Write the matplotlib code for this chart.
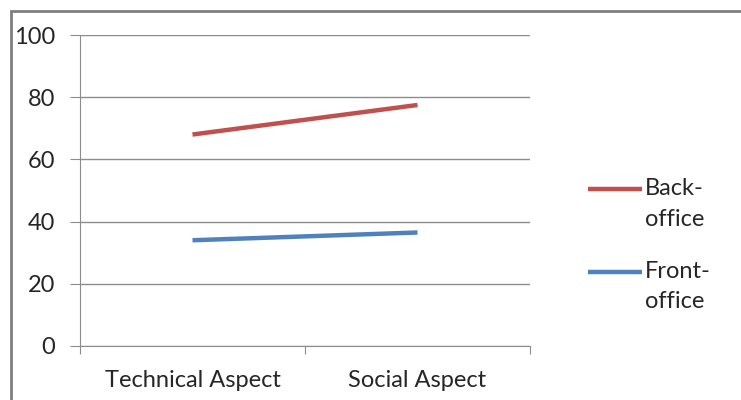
import matplotlib.pyplot as plt
from matplotlib.patches import Rectangle
from matplotlib.lines import Line2D

categories = ["Technical Aspect", "Social Aspect"]
back_office = [68, 77.5]
front_office = [34, 36.5]
y_ticks = [0, 20, 40, 60, 80, 100]
series_names = [("Back-", "office"), ("Front-", "office")]

red = "#C0504D"
blue = "#4F81BD"
grid_col = "#8C8C8C"
text_col = "#262626"

plt.rcParams['font.family'] = ['Lato', 'DejaVu Sans']

fig = plt.figure(figsize=(7.41, 4), dpi=100)
W, H = 741, 400
# axes in pixel coords: left 80, right 530, top 35, bottom 346
ax = fig.add_axes([80 / W, 1 - 346 / H, 450 / W, 311 / H])

x = [0.5, 1.5]
ax.plot(x, back_office, color=red, lw=3.2, solid_capstyle='butt')
ax.plot(x, front_office, color=blue, lw=3.2, solid_capstyle='butt')

ax.set_xlim(0, 2)
ax.set_ylim(0, 100)
ax.set_yticks(y_ticks)
ax.set_xticks([0, 1, 2])
ax.set_xticklabels([])
ax.set_xticks(x, minor=True)
ax.set_xticklabels(categories, minor=True)
ax.tick_params(axis='x', which='minor', length=0, pad=17, labelsize=17, colors=text_col)
ax.tick_params(axis='x', which='major', length=6, color=grid_col, direction='out')
ax.tick_params(axis='y', length=7, color=grid_col, labelsize=17, pad=11, labelcolor=text_col)
ax.yaxis.grid(True, color=grid_col, lw=1)
ax.set_axisbelow(True)
for s in ['top', 'right']:
    ax.spines[s].set_visible(False)
for s in ['left', 'bottom']:
    ax.spines[s].set_color(grid_col)

# legend, Excel style: handle level with the first line of the label
for (first, second), col, yy in zip(series_names, [red, blue], [189, 272]):
    yf = 1 - yy / H
    fig.add_artist(Line2D([588 / W, 642 / W], [yf, yf], transform=fig.transFigure,
                          color=col, lw=3.2, solid_capstyle='butt'))
    fig.text(645 / W, yf, first, fontsize=17, color=text_col, va='center', ha='left')
    fig.text(645 / W, 1 - (yy + 30) / H, second, fontsize=17, color=text_col, va='center', ha='left')

# outer chart border
fig.patches.append(Rectangle((11 / W, -0.05), 1.1, 1.05 - 11 / H, transform=fig.transFigure,
                             fill=False, edgecolor='#7F7F7F', lw=2))

fig.savefig("out.png", dpi=100)
